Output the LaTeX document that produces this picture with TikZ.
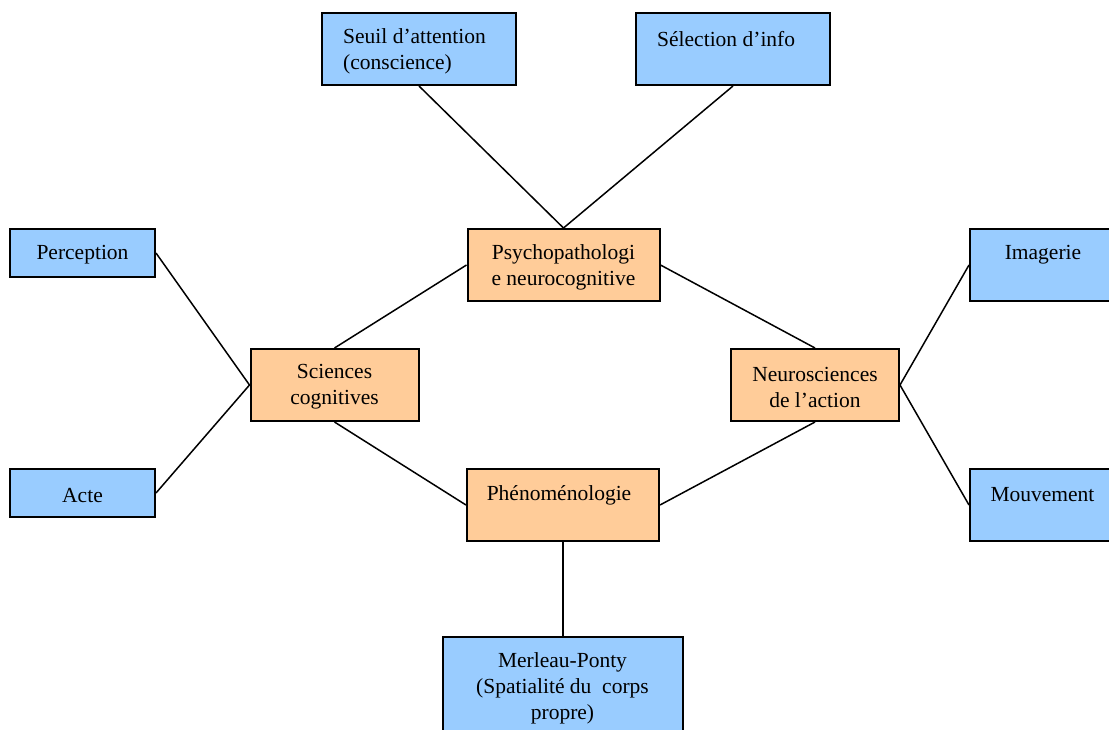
\documentclass[tikz,border=0pt]{standalone}
\usepackage{fontspec}
\setmainfont{Liberation Serif}
\definecolor{boxblue}{HTML}{99CCFF}
\definecolor{boxorange}{HTML}{FFCC99}
\begin{document}
\begin{tikzpicture}[x=1pt,y=-1pt,
  box/.style={draw=black, line width=2pt, rectangle, inner sep=0pt},
  bluebox/.style={box, fill=boxblue},
  orangebox/.style={box, fill=boxorange},
  txt/.style={inner sep=0pt, font=\fontsize{21.5}{26}\selectfont},
  link/.style={draw=black, line width=1.5pt}]
\useasboundingbox (0,0) rectangle (1109,729);
\clip (0,0) rectangle (1109,729);
% boxes
\node[bluebox, minimum width=194pt, minimum height=72pt] (seuil) at (419,49) {};
\node[bluebox, minimum width=194pt, minimum height=72pt] (selection) at (733,49) {};
\node[orangebox, minimum width=192pt, minimum height=72pt] (psycho) at (563.5,265) {};
\node[bluebox, minimum width=145pt, minimum height=48pt] (perception) at (82.5,253) {};
\node[bluebox, minimum width=146pt, minimum height=72pt] (imagerie) at (1043,265) {};
\node[orangebox, minimum width=168pt, minimum height=72pt] (sciences) at (334.5,385) {};
\node[orangebox, minimum width=168pt, minimum height=72pt] (neuro) at (815,385) {};
\node[bluebox, minimum width=145pt, minimum height=48pt] (acte) at (82.5,493) {};
\node[orangebox, minimum width=192pt, minimum height=72pt] (phen) at (563,505) {};
\node[bluebox, minimum width=240pt, minimum height=113pt] (merleau) at (563,693.5) {};
\node[bluebox, minimum width=146pt, minimum height=72pt] (mouvement) at (1043,505) {};
% texts
\node[txt, align=left, anchor=west] (seuil-t) at (343,51) {Seuil d’attention\\(conscience)};
\node[txt, anchor=west] (selection-t) at (657,39) {Sélection d’info};
\node[txt, align=center] (psycho-t) at (563.5,267) {Psychopathologi\\e neurocognitive};
\node[txt] (perception-t) at (82.5,255) {Perception};
\node[txt] (imagerie-t) at (1043,255) {Imagerie};
\node[txt, align=center] (sciences-t) at (334.5,387) {Sciences\\cognitives};
\node[txt, align=center] (neuro-t) at (815,387) {Neurosciences\\de l’action};
\node[txt] (acte-t) at (82.5,495) {Acte};
\node[txt] (phen-t) at (559,495) {Phénoménologie};
\node[txt] (mouvement-t) at (1042.5,495) {Mouvement};
\node[txt, align=center] (merleau-t) at (562.5,688) {Merleau-Ponty\\(Spatialité du\ \ corps\\propre)};
% connectors
\draw[link] (seuil.south) -- (psycho.north);
\draw[link] (selection.south) -- (psycho.north);
\draw[link] (psycho.west) -- (sciences.north);
\draw[link] (psycho.east) -- (neuro.north);
\draw[link] (perception.east) -- (sciences.west);
\draw[link] (acte.east) -- (sciences.west);
\draw[link] (sciences.south) -- (phen.west);
\draw[link] (neuro.south) -- (phen.east);
\draw[link] (neuro.east) -- (imagerie.west);
\draw[link] (neuro.east) -- (mouvement.west);
\draw[link] (phen.south) -- (merleau.north);
\end{tikzpicture}
\end{document}
